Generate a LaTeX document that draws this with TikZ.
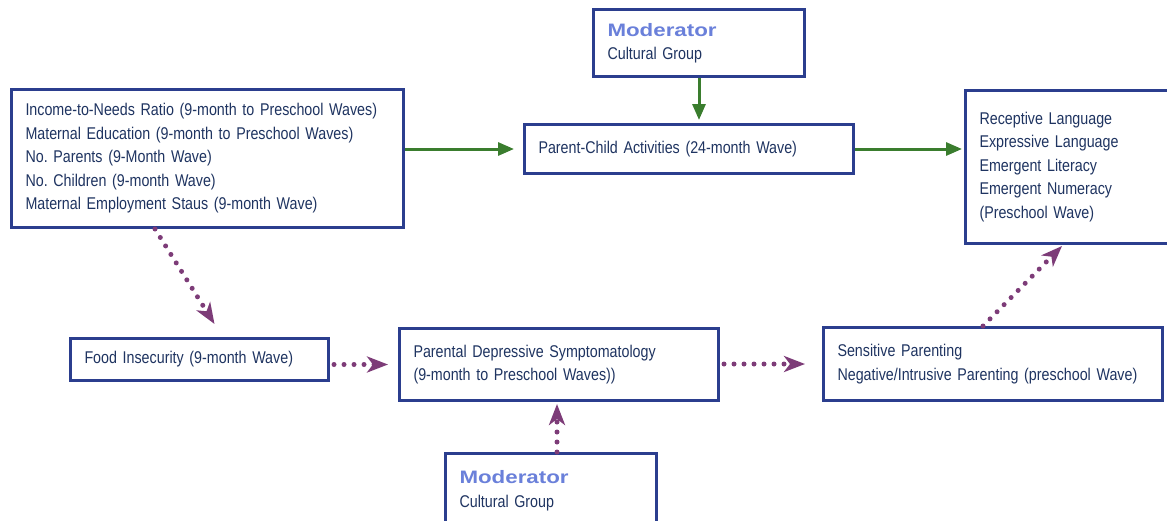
\documentclass[tikz,border=0pt]{standalone}
\usepackage{fontspec}
\usepackage{tikz}
\usetikzlibrary{calc,arrows.meta}
\newfontfamily\condfont{Liberation Sans}[FakeStretch=0.84]
\newfontfamily\widefont{Liberation Sans}[FakeStretch=1.24]
\definecolor{boxblue}{HTML}{2B3E8E}
\definecolor{textnavy}{HTML}{1F3461}
\definecolor{modblue}{HTML}{6A80DA}
\definecolor{pathgreen}{HTML}{3A7D2E}
\definecolor{pathpurple}{HTML}{7D3C78}
\frenchspacing
\tikzset{
  box/.style={draw=boxblue,line width=3pt,fill=white,anchor=north west,inner xsep=14pt,inner ysep=3pt,align=left,text=textnavy,font=\condfont\fontsize{17}{23.5}\selectfont},
  direct/.style={draw=pathgreen,line width=3pt,-{Triangle[length=16pt,width=13pt]}},
  indirect/.style={draw=pathpurple,line width=5pt,line cap=round,dash pattern=on 0pt off 10pt,-{Stealth[length=21pt,width=16pt,inset=6pt]}}
}
\newcommand{\modtext}{{\widefont\bfseries\fontsize{18}{23.5}\selectfont\textcolor{modblue}{Moderator}}\\Cultural Group}
\begin{document}
\begin{tikzpicture}[x=1pt,y=-1pt]
\clip (0,0) rectangle (1167,520);
\node[box,text width=183pt,minimum height=67pt] (modtop) at (592,8) {\modtext};
\node[box,text width=364pt,minimum height=138pt] (inputs) at (10,88) {Income-to-Needs Ratio (9-month to Preschool Waves)\\Maternal Education (9-month to Preschool Waves)\\No. Parents (9-Month Wave)\\No. Children (9-month Wave)\\Maternal Employment Staus (9-month Wave)};
\node[box,text width=301pt,minimum height=49pt] (pc) at (523,123) {Parent-Child Activities (24-month Wave)};
\node[box,text width=192pt,minimum height=153pt] (outc) at (964,89) {Receptive Language\\Expressive Language\\Emergent Literacy\\Emergent Numeracy\\(Preschool Wave)};
\node[box,text width=230pt,minimum height=42pt] (food) at (69,337) {Food Insecurity (9-month Wave)};
\node[box,text width=291pt,minimum height=72pt] (pds) at (398,327) {Parental Depressive Symptomatology\\(9-month to Preschool Waves))};
\node[box,text width=311pt,minimum height=73pt] (sens) at (822,326) {Sensitive Parenting\\Negative/Intrusive Parenting (preschool Wave)};
\node[box,text width=183pt,minimum height=74pt] (modbot) at (444,452) {\modtext};
% direct paths
\draw[direct] (inputs.east |- pc.west) -- ([xshift=-9pt]pc.west);
\draw[direct] (pc.east) -- ([xshift=-2pt]outc.west |- pc.east);
\draw[direct] (modtop.south) -- ([yshift=3pt]pc.north -| modtop.south);
% indirect paths
\draw[indirect] ([xshift=145pt]inputs.south west) -- ($(food.north)+(15,-13)$);
\draw[indirect] ([xshift=4pt]food.east |- pds.west) -- ([xshift=-10pt]pds.west);
\draw[indirect] ([xshift=4pt]pds.east |- sens.west) -- ([xshift=-17pt]sens.west);
\draw[indirect] ([xshift=161pt]sens.north west) -- ([xshift=98pt,yshift=-1pt]outc.south west);
\draw[indirect] ([xshift=6pt]modbot.north) -- ([xshift=6pt,yshift=-2pt]modbot.north |- pds.south);
\end{tikzpicture}
\end{document}
